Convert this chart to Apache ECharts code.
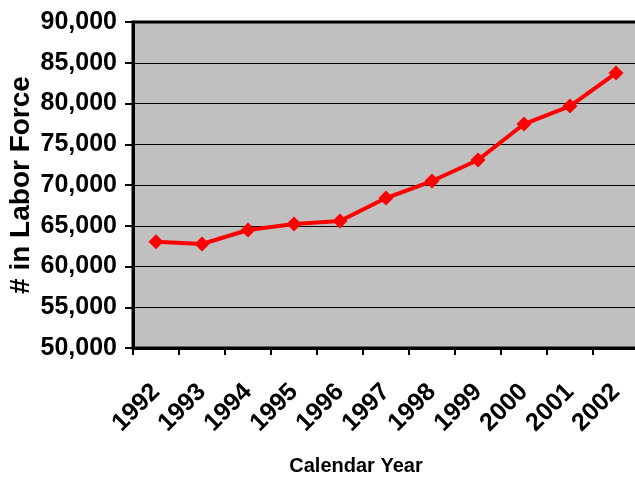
<!DOCTYPE html>
<html>
<head>
<meta charset="utf-8">
<script src="https://cdn.jsdelivr.net/npm/echarts@6/dist/echarts.min.js"></script>
<style>
  html, body { margin: 0; padding: 0; background: #fff; }
  #chart { width: 635px; height: 481px; }
</style>
</head>
<body>
<div id="chart"></div>
<script>
// data
const years = ['1992', '1993', '1994', '1995', '1996', '1997', '1998', '1999', '2000', '2001', '2002'];
const laborForce = [63040, 62760, 64480, 65210, 65580, 68400, 70490, 73070, 77480, 79690, 83740];
const yTicks = { min: 50000, max: 90000, step: 5000 };

const font = 'Liberation Sans, Arial, sans-serif';

const chart = echarts.init(document.getElementById('chart'));

chart.setOption({
  animation: false,
  grid: {
    left: 133,
    top: 22,
    right: -4,
    bottom: 133,
    outerBoundsMode: 'none',
    containLabel: false,
    show: true,
    backgroundColor: '#c0c0c0',
    borderColor: '#000',
    borderWidth: 3
  },
  xAxis: {
    type: 'category',
    data: years,
    boundaryGap: true,
    name: 'Calendar Year',
    nameLocation: 'middle',
    nameGap: 108,
    nameMoveOverlap: false,
    nameTextStyle: {
      fontFamily: font,
      fontWeight: 'bold',
      fontSize: 20,
      color: '#000',
      padding: [0, 60, 0, 0]
    },
    axisLine: { lineStyle: { color: '#000', width: 3 } },
    axisTick: { show: true, interval: 0, length: 7, lineStyle: { color: '#000', width: 2 } },
    axisLabel: {
      interval: 0,
      rotate: 45,
      margin: 40,
      fontFamily: font,
      fontWeight: 'bold',
      fontSize: 25,
      color: '#000'
    },
    splitLine: { show: false }
  },
  yAxis: {
    type: 'value',
    min: yTicks.min,
    max: yTicks.max,
    interval: yTicks.step,
    name: '# in Labor Force',
    nameLocation: 'middle',
    nameRotate: 90,
    nameGap: 98,
    nameMoveOverlap: false,
    nameTextStyle: {
      fontFamily: font,
      fontWeight: 'bold',
      fontSize: 28,
      color: '#000'
    },
    axisLine: { show: true, lineStyle: { color: '#000', width: 3 } },
    axisTick: { show: true, length: 8, lineStyle: { color: '#000', width: 2 } },
    axisLabel: {
      margin: 16,
      fontFamily: font,
      fontWeight: 'bold',
      fontSize: 25,
      color: '#000',
      formatter: (v) => v.toLocaleString('en-US')
    },
    splitLine: { show: true, lineStyle: { color: '#000', width: 1 } }
  },
  series: [
    {
      name: 'Labor Force',
      type: 'line',
      data: laborForce,
      symbol: 'diamond',
      symbolSize: 15,
      lineStyle: { color: '#ff0000', width: 4 },
      itemStyle: { color: '#ff0000' }
    }
  ]
});
</script>
</body>
</html>
